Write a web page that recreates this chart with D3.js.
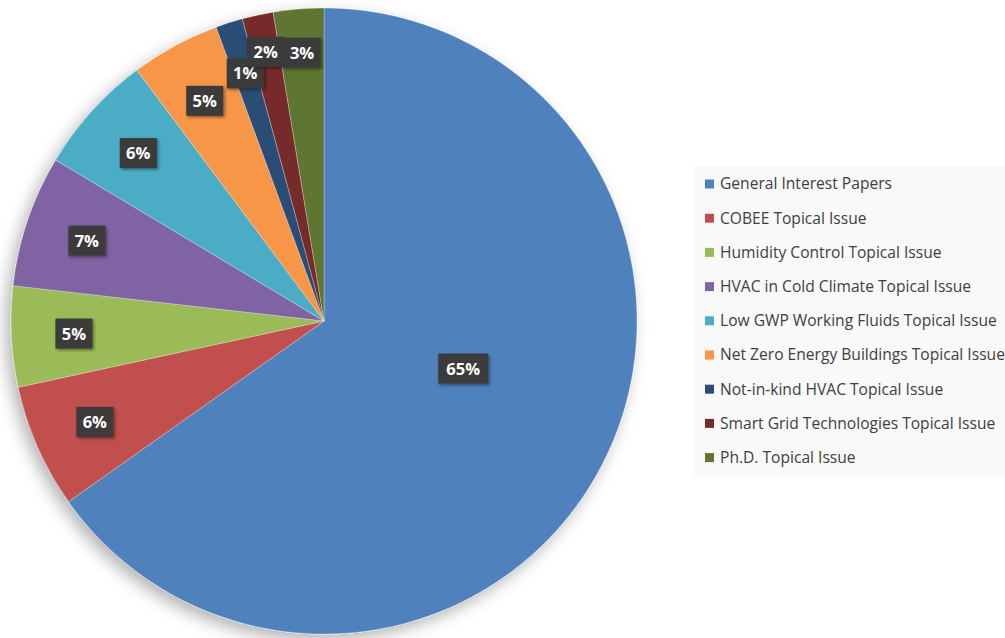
<!DOCTYPE html>
<html lang="en">
<head>
    <meta charset="UTF-8">
    <script src="https://d3js.org/d3.v7.min.js"></script>
    <title>Papers by topic</title>
    <style>
        body {
            margin: 0;
            padding: 0;
            background-color: #fff;
        }
        svg {
            display: block;
        }
        .lbl-txt {
            font-family: "Open Sans", "Liberation Sans", sans-serif;
            font-weight: bold;
            font-size: 16.5px;
            fill: #fff;
        }
        .leg-txt {
            font-family: "Open Sans", sans-serif;
            font-size: 15.6px;
            fill: #404040;
        }
    </style>
</head>
<body>
    <div id="chart"></div>

    <script>
        // categories in drawing order (clockwise from 12 o'clock)
        const topics = [
            "General Interest Papers",
            "COBEE Topical Issue",
            "Humidity Control Topical Issue",
            "HVAC in Cold Climate Topical Issue",
            "Low GWP Working Fluids Topical Issue",
            "Net Zero Energy Buildings Topical Issue",
            "Not-in-kind HVAC Topical Issue",
            "Smart Grid Technologies Topical Issue",
            "Ph.D. Topical Issue"
        ]
        // share of papers, percent
        const shares = [65.2, 6.4, 5.2, 6.8, 6.2, 4.6, 1.4, 1.6, 2.6]
        const colors = ["#4f81bd", "#c0504d", "#9bbb59", "#8064a2", "#4bacc6",
                        "#f79646", "#2c4d75", "#772c2a", "#5f7530"]

        const W = 1005, H = 638
        const cx = 324, cy = 321, R = 313

        const svg = d3.select("#chart").append("svg")
            .attr("width", W)
            .attr("height", H)

        // soft shadow under pie and the label boxes
        const defs = svg.append("defs")
        const f = defs.append("filter").attr("id", "pieShadow")
            .attr("x", "-20%").attr("y", "-20%").attr("width", "140%").attr("height", "140%")
        f.append("feDropShadow").attr("dx", -5).attr("dy", 6).attr("stdDeviation", 8)
            .attr("flood-color", "#000").attr("flood-opacity", 0.3)
        const f2 = defs.append("filter").attr("id", "boxShadow")
            .attr("x", "-30%").attr("y", "-30%").attr("width", "160%").attr("height", "160%")
        f2.append("feDropShadow").attr("dx", 1.5).attr("dy", 1.5).attr("stdDeviation", 1.5)
            .attr("flood-color", "#000").attr("flood-opacity", 0.45)

        const data = topics.map((t, i) => ({ name: t, value: shares[i], color: colors[i] }))
        const total = d3.sum(shares)

        const pie = d3.pie().value(d => d.value).sort(null)
        const arcs = pie(data)
        const arc = d3.arc().innerRadius(0).outerRadius(R)

        const g = svg.append("g").attr("transform", "translate(" + cx + "," + cy + ")")

        g.append("g").attr("filter", "url(#pieShadow)")
            .selectAll("path").data(arcs)
            .enter().append("path")
            .attr("d", arc)
            .attr("fill", d => d.data.color)
            .attr("stroke", "rgba(255,255,255,0.35)")
            .attr("stroke-width", 0.8)

        // "best fit"-ish label spot: big slice sits inside, thin ones pushed out
        function lblPos(d) {
            const p = d.data.value / total
            let r = R * 0.8, a = (d.startAngle + d.endAngle) / 2
            if (p > 0.5) { r = R * 0.47; a -= 8.5 * Math.PI / 180 }
            else if (p < 0.015) r = R * 0.83
            else if (p < 0.02) r = R * 0.88
            else if (p < 0.03) r = R * 0.86
            return [Math.sin(a) * r, -Math.cos(a) * r]
        }
        const fmt = d3.format(".0%")

        const lbl = g.selectAll(".lbl").data(arcs)
            .enter().append("g").attr("class", "lbl")
            .attr("transform", d => "translate(" + lblPos(d) + ")")

        lbl.each(function (d) {
            const s = d3.select(this)
            const txt = fmt(Math.round(d.data.value) / 100)
            const bw = txt.length > 2 ? 50 : 37
            const bh = 30
            s.append("rect")
                .attr("x", -bw / 2).attr("y", -bh / 2)
                .attr("width", bw).attr("height", bh)
                .attr("fill", "#3b3b3b")
                .attr("filter", "url(#boxShadow)")
            s.append("text").attr("class", "lbl-txt")
                .attr("text-anchor", "middle")
                .attr("dy", "0.36em")
                .text(txt)
        })

        // legend
        const leg = svg.append("g").attr("transform", "translate(694,166)")
        leg.append("rect")
            .attr("width", 320).attr("height", 310)
            .attr("fill", "#f9f9f9")

        const step = 34.2
        const item = leg.selectAll(".leg").data(data)
            .enter().append("g").attr("class", "leg")
            .attr("transform", (d, i) => "translate(11," + (18 + i * step) + ")")
        item.append("rect")
            .attr("x", 0).attr("y", -4.5)
            .attr("width", 9).attr("height", 9)
            .attr("fill", d => d.color)
        item.append("text").attr("class", "leg-txt")
            .attr("x", 15)
            .attr("dy", "0.35em")
            .text(d => d.name)
    </script>
</body>
</html>
